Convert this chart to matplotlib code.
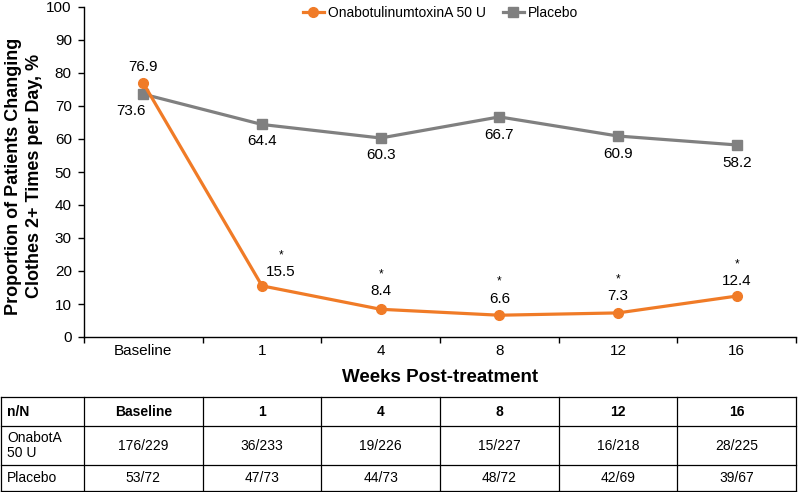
import numpy as np
import matplotlib
matplotlib.use("Agg")
import matplotlib.pyplot as plt
import matplotlib.transforms as mtransforms

plt.rcParams['font.family'] = ['Liberation Sans', 'DejaVu Sans']

# data
weeks = ['Baseline', '1', '4', '8', '12', '16']
onabot = [76.9, 15.5, 8.4, 6.6, 7.3, 12.4]
placebo = [73.6, 64.4, 60.3, 66.7, 60.9, 58.2]
significant = [False, True, True, True, True, True]

# n/N table
onabot_n = ['176/229', '36/233', '19/226', '15/227', '16/218', '28/225']
placebo_n = ['53/72', '47/73', '44/73', '48/72', '42/69', '39/67']

orange = '#F07B27'
grey = '#808080'

fig = plt.figure(figsize=(8, 4.92), dpi=100)
ax = fig.add_axes([84 / 800, 1 - 337 / 492, 712 / 800, 330 / 492])

x = np.arange(len(weeks))
ax.plot(x, onabot, color=orange, lw=2.3, marker='o', ms=7, label='OnabotulinumtoxinA 50 U', zorder=3)
ax.plot(x, placebo, color=grey, lw=2.3, marker='s', ms=6.5, label='Placebo', zorder=2)

# value labels (offsets in points)
ona_off = [(0, 12), (13.5, 10), (0, 13), (0, 12), (0, 12), (0, 11)]
pla_off = [(-9, -12.5), (0, -12), (0, -12), (0, -13), (0, -13), (0, -13)]
for i in range(len(weeks)):
    ax.annotate(f'{onabot[i]:.1f}', (x[i], onabot[i]), xytext=ona_off[i], textcoords='offset points',
                ha='center', va='center', fontsize=11)
    ax.annotate(f'{placebo[i]:.1f}', (x[i], placebo[i]), xytext=pla_off[i], textcoords='offset points',
                ha='center', va='center', fontsize=11)
    if significant[i]:
        dx, dy = ona_off[i]
        ax.annotate('*', (x[i], onabot[i]), xytext=(dx, dy + 12), textcoords='offset points',
                    ha='center', va='center', fontsize=8.5)

ax.set_xlim(-0.5, len(weeks) - 0.5)
ax.set_ylim(0, 100)
ax.set_yticks(np.arange(0, 101, 10))
ax.tick_params(axis='y', labelsize=11, length=4.3, width=1, pad=4.5)

ax.set_xticks(np.arange(-0.5, len(weeks)), labels=[])
ax.set_xticks(x, labels=weeks, minor=True)
ax.tick_params(axis='x', which='major', length=4, width=1)
ax.tick_params(axis='x', which='minor', length=0, labelsize=11, pad=5)

for s in ['top', 'right']:
    ax.spines[s].set_visible(False)
for s in ['left', 'bottom']:
    ax.spines[s].set_linewidth(1)

ax.set_ylabel('Proportion of Patients Changing\nClothes 2+ Times per Day, %',
              fontsize=13, fontweight='bold', va='center', linespacing=1.3)
ax.yaxis.set_label_coords((24 - 84) / 712, (337 - 176) / 330)
ax.set_xlabel('Weeks Post-treatment', fontsize=13.5, fontweight='bold', va='center')
ax.xaxis.set_label_coords(0.5, (337 - 378) / 330)

ax.legend(loc='center left', bbox_to_anchor=(303 / 800, 1 - 13 / 492), bbox_transform=fig.transFigure,
          ncol=2, frameon=False, fontsize=10, handlelength=1.5, handletextpad=0.3,
          columnspacing=1.2, borderpad=0, borderaxespad=0)

# n/N table underneath, columns lined up with the x categories
tr = mtransforms.blended_transform_factory(ax.transData, fig.transFigure)
col_edges = [-0.5 - 83 / 119] + list(np.arange(-0.5, len(weeks)))
row_edges = [1 - y / 492 for y in (397, 426, 465, 491)]
lw = 0.9
for ce in col_edges:
    ax.plot([ce, ce], [row_edges[0], row_edges[-1]], color='black', lw=lw, transform=tr, clip_on=False)
for re in row_edges:
    ax.plot([col_edges[0], col_edges[-1]], [re, re], color='black', lw=lw, transform=tr, clip_on=False)

rows = [('n/N', weeks, 'bold'), ('OnabotA\n50 U', onabot_n, 'normal'), ('Placebo', placebo_n, 'normal')]
for r, (name, cells, weight) in enumerate(rows):
    yc = (row_edges[r] + row_edges[r + 1]) / 2
    ax.text(col_edges[0] + 6 / 119, yc, name, transform=tr, ha='left', va='center',
            fontsize=10, fontweight=weight, linespacing=1.1)
    for i, c in enumerate(cells):
        ax.text(x[i], yc, c, transform=tr, ha='center', va='center', fontsize=10, fontweight=weight)

fig.savefig('out.png', dpi=100)
